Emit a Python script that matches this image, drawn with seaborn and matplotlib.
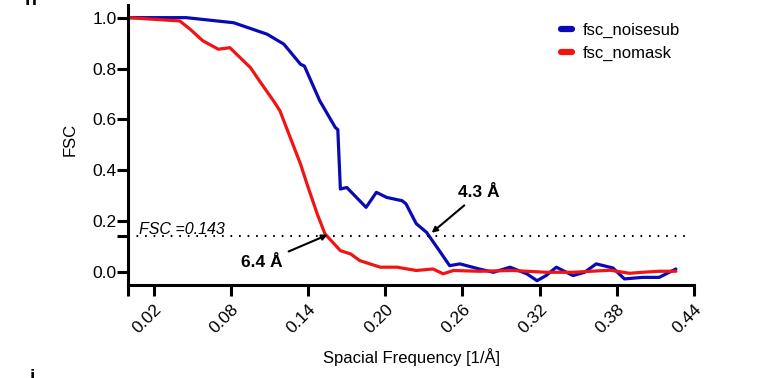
import numpy as np
import pandas as pd
import seaborn as sns
import matplotlib.pyplot as plt

# FSC curves
freq_noisesub = [0.0, 0.045, 0.082, 0.108, 0.121, 0.134, 0.137, 0.149, 0.161, 0.163,
                 0.165, 0.170, 0.180, 0.185, 0.193, 0.201, 0.213, 0.216, 0.224, 0.232,
                 0.241, 0.250, 0.258, 0.273, 0.284, 0.297, 0.310, 0.318, 0.325, 0.333,
                 0.346, 0.355, 0.364, 0.377, 0.386, 0.400, 0.413, 0.426]
fsc_noisesub = [1.0, 1.0, 0.980, 0.935, 0.896, 0.817, 0.810, 0.673, 0.569, 0.560,
                0.327, 0.333, 0.281, 0.255, 0.314, 0.294, 0.281, 0.269, 0.191, 0.157,
                0.092, 0.026, 0.033, 0.013, 0.0, 0.020, -0.006, -0.033, -0.013, 0.020,
                -0.013, 0.0, 0.033, 0.017, -0.026, -0.020, -0.020, 0.013]

freq_nomask = [0.0, 0.040, 0.048, 0.058, 0.070, 0.079, 0.095, 0.102, 0.113, 0.118,
               0.127, 0.134, 0.139, 0.147, 0.153, 0.165, 0.173, 0.180, 0.188, 0.196,
               0.209, 0.224, 0.237, 0.245, 0.253, 0.273, 0.299, 0.325, 0.346, 0.360,
               0.375, 0.390, 0.400, 0.413, 0.426]
fsc_nomask = [1.0, 0.987, 0.955, 0.909, 0.876, 0.882, 0.804, 0.752, 0.673, 0.634,
              0.516, 0.425, 0.347, 0.229, 0.151, 0.085, 0.072, 0.046, 0.033, 0.020,
              0.020, 0.007, 0.013, -0.006, 0.007, 0.004, 0.007, 0.0, 0.0, 0.004,
              0.008, -0.004, 0.0, 0.004, 0.004]

threshold = 0.143
xticks = [0.02, 0.08, 0.14, 0.20, 0.26, 0.32, 0.38, 0.44]
yticks = [0.0, 0.2, 0.4, 0.6, 0.8, 1.0]

df = pd.concat([
    pd.DataFrame({"freq": freq_noisesub, "fsc": fsc_noisesub, "curve": "fsc_noisesub"}),
    pd.DataFrame({"freq": freq_nomask, "fsc": fsc_nomask, "curve": "fsc_nomask"}),
])

sns.set_style("ticks")
plt.rcParams['font.family'] = ['Liberation Sans', 'DejaVu Sans']
plt.rcParams['text.color'] = 'black'
plt.rcParams['axes.labelcolor'] = 'black'
plt.rcParams['xtick.color'] = 'black'
plt.rcParams['ytick.color'] = 'black'
plt.rcParams['axes.edgecolor'] = 'black'

fig = plt.figure(figsize=(7.79, 3.78), dpi=100)
ax = fig.add_axes([0.1647, 0.246, 0.726, 0.741])

sns.lineplot(data=df, x="freq", y="fsc", hue="curve", sort=False,
             palette={"fsc_noisesub": "#0a0ab4", "fsc_nomask": "#f01414"},
             linewidth=2.3, ax=ax)

ax.axhline(threshold, xmax=0.993, color="black", linestyle=(0, (0.8, 3.3)), linewidth=1.5)
ax.text(0.008, 0.152, "FSC =0.143", style="italic", fontsize=11.5)

ax.annotate("4.3 Å", xy=(0.236, 0.155), xytext=(0.273, 0.312),
            fontsize=12.5, fontweight="bold", ha="center", va="center",
            arrowprops=dict(arrowstyle="-|>", color="black", lw=1.5,
                            shrinkA=2, shrinkB=0, mutation_scale=8))
ax.annotate("6.4 Å", xy=(0.155, 0.147), xytext=(0.104, 0.037),
            fontsize=12.5, fontweight="bold", ha="center", va="center",
            arrowprops=dict(arrowstyle="-|>", color="black", lw=1.5,
                            shrinkA=2, shrinkB=0, mutation_scale=8))

ax.set_xlim(0, 0.44)
ax.set_ylim(-0.05, 1.05)
ax.set_xticks(xticks)
ax.set_xticklabels([f"{t:.2f}" for t in xticks], rotation=45, ha="right",
                   rotation_mode="anchor")
ax.set_xticks([0.0], minor=True)
ax.set_yticks(yticks)
ax.set_yticklabels([f"{t:.1f}" for t in yticks])
ax.set_yticks([threshold], minor=True)
ax.tick_params(axis="both", which="both", direction="out", length=8, width=2.2,
               labelsize=12.5, pad=0.5)
ax.tick_params(axis="x", which="major", pad=4)
for side in ["left", "bottom"]:
    ax.spines[side].set_linewidth(2.2)
sns.despine(ax=ax)

ax.set_xlabel("Spacial Frequency [1/Å]", fontsize=12)
ax.set_ylabel("FSC", fontsize=12)
ax.xaxis.set_label_coords(0.5, -0.225)
ax.yaxis.set_label_coords(-0.09, 0.52)

leg = ax.legend(loc="upper left", bbox_to_anchor=(0.738, 0.99), frameon=False,
                fontsize=12, handlelength=0.7, handletextpad=0.6, labelspacing=0.5)
for line in leg.get_lines():
    line.set_linewidth(4.5)

fig.text(25 / 779, 1 - 9 / 378, "h", fontsize=14, fontweight="bold", va="bottom")
fig.text(30 / 779, 1 - 369 / 378, "i", fontsize=14, fontweight="bold", va="top")

fig.savefig("out.png", dpi=100)
